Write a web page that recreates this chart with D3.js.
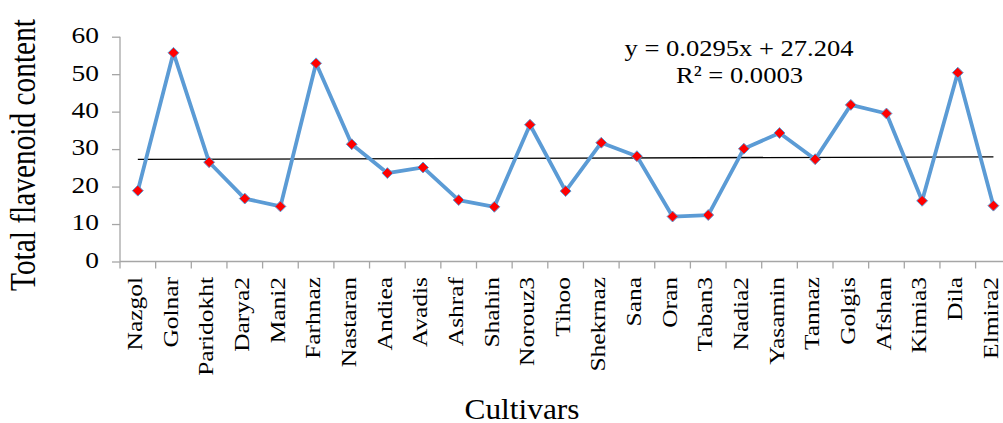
<!DOCTYPE html>
<html>
<head>
<meta charset="utf-8">
<script src="https://cdn.jsdelivr.net/npm/d3@7"></script>
<style>
  body { margin: 0; background: #fff; }
  svg { display: block; font-family: "Liberation Serif", "Times New Roman", serif; }
  svg text { font-family: "Liberation Serif", "Times New Roman", serif !important; fill: #000; }
</style>
</head>
<body>
<svg id="chart" width="1003" height="423"></svg>
<script>
// Total flavonoid content per cultivar
const cultivars = ["Nazgol", "Golnar", "Paridokht", "Darya2", "Mani2", "Farhnaz", "Nastaran",
  "Andiea", "Avadis", "Ashraf", "Shahin", "Norouz3", "Tihoo", "Shekrnaz", "Sana", "Oran",
  "Taban3", "Nadia2", "Yasamin", "Tannaz", "Golgis", "Afshan", "Kimia3", "Dila", "Elmira2"];
const flavonoid = [18.9, 55.7, 26.5, 16.8, 14.7, 52.9, 31.3,
  23.6, 25.1, 16.4, 14.6, 36.5, 18.8, 31.7, 28.1, 12.0,
  12.4, 30.1, 34.3, 27.3, 41.8, 39.5, 16.2, 50.4, 14.9];
const yTicks = [0, 10, 20, 30, 40, 50, 60];
// Linear trend fitted over the cultivar index (1..n)
const trendSlope = 0.0295;
const trendIntercept = 27.204;
const equationLines = ["y = 0.0295x + 27.204", "R\u00B2 = 0.0003"];
const yTitle = "Total flavenoid content";
const xTitle = "Cultivars";

const serif = '"Liberation Serif", "Times New Roman", serif';
const svg = d3.select("#chart");
const left = 120, bandW = 35.65;
const x = d3.scaleBand().domain(cultivars).range([left, left + bandW * cultivars.length]).padding(0);
const y = d3.scaleLinear().domain([0, 60]).range([261.5, 36.7]);
const cx = d => x(d) + x.bandwidth() / 2;

// widen glyphs along the text direction
function stretch(sel, k) {
  sel.each(function () {
    const w = this.getComputedTextLength();
    this.setAttribute("textLength", w * k);
    this.setAttribute("lengthAdjust", "spacingAndGlyphs");
  });
}
function fitLength(sel, len) {
  sel.attr("textLength", len).attr("lengthAdjust", "spacingAndGlyphs");
}

const axisColor = "#a6a6a6";

// Y axis
const yAxis = svg.append("g").attr("transform", `translate(${left},0)`)
  .call(d3.axisLeft(y).tickValues(yTicks).tickSize(8).tickPadding(13).tickFormat(d3.format("d")));
yAxis.attr("font-family", null).attr("font-size", null);
yAxis.select(".domain").attr("stroke", axisColor).attr("stroke-width", 1.3).attr("d", `M0,${y(60)}V${y(0)}`);
yAxis.selectAll(".tick line").attr("stroke", axisColor).attr("stroke-width", 1.3);
yAxis.selectAll(".tick text")
  .style("font-family", serif).style("font-size", "22.5px")
  .attr("dy", "0.26em").attr("fill", "#000");
stretch(yAxis.selectAll(".tick text"), 1.22);

// X axis baseline and band boundary ticks
const xAxis = svg.append("g");
xAxis.append("line")
  .attr("x1", left).attr("x2", left + bandW * cultivars.length)
  .attr("y1", y(0)).attr("y2", y(0))
  .attr("stroke", axisColor).attr("stroke-width", 1.3);
const bounds = cultivars.map(c => x(c)).concat([x(cultivars[cultivars.length - 1]) + x.bandwidth()]);
xAxis.selectAll("line.tk").data(bounds).join("line").attr("class", "tk")
  .attr("x1", d => d).attr("x2", d => d)
  .attr("y1", y(0)).attr("y2", y(0) + 7)
  .attr("stroke", axisColor).attr("stroke-width", 1.3);

const catLabels = xAxis.selectAll("text.cat").data(cultivars).join("text").attr("class", "cat")
  .attr("transform", d => `translate(${cx(d)},277) rotate(-90)`)
  .attr("text-anchor", "end").attr("dy", 4.2)
  .style("font-family", serif).style("font-size", "20.5px")
  .text(d => d);
stretch(catLabels, 1.24);

// Axis titles
const yt = svg.append("text")
  .attr("transform", "translate(35,155) rotate(-90)")
  .attr("text-anchor", "middle")
  .style("font-family", serif).style("font-size", "36px")
  .text(yTitle);
fitLength(yt, 272);

const xt = svg.append("text")
  .attr("x", 522).attr("y", 419).attr("text-anchor", "middle")
  .style("font-family", serif).style("font-size", "29px")
  .text(xTitle);
fitLength(xt, 115);

// Trend line
const idx = i => i + 1;
svg.append("line")
  .attr("x1", cx(cultivars[0])).attr("y1", y(trendSlope * idx(0) + trendIntercept))
  .attr("x2", cx(cultivars[cultivars.length - 1])).attr("y2", y(trendSlope * idx(cultivars.length - 1) + trendIntercept))
  .attr("stroke", "#000").attr("stroke-width", 1.3);

// Data line
const pts = cultivars.map((c, i) => ({ c, v: flavonoid[i] }));
svg.append("path").datum(pts)
  .attr("fill", "none").attr("stroke", "#5b9bd5").attr("stroke-width", 3.8)
  .attr("stroke-linejoin", "round")
  .attr("d", d3.line().x(d => cx(d.c)).y(d => y(d.v)));

// Diamond markers
const diamond = d3.symbol().type(d3.symbolDiamond2).size(75);
svg.selectAll("path.mk").data(pts).join("path").attr("class", "mk")
  .attr("transform", d => `translate(${cx(d.c)},${y(d.v)})`)
  .attr("d", diamond)
  .attr("fill", "#ff0000").attr("stroke", "#5b9bd5").attr("stroke-width", 1);

// Trend equation
const eq = svg.append("g");
const l1 = eq.append("text").attr("x", 739).attr("y", 55.5).attr("text-anchor", "middle")
  .style("font-family", serif).style("font-size", "24px").text(equationLines[0]);
fitLength(l1, 229);
const l2 = eq.append("text").attr("x", 739.5).attr("y", 83).attr("text-anchor", "middle")
  .style("font-family", serif).style("font-size", "24px").text(equationLines[1]);
fitLength(l2, 127);
</script>
</body>
</html>
